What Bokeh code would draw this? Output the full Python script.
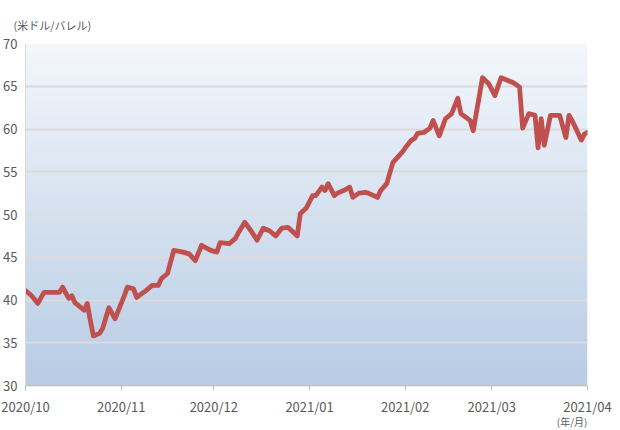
import numpy as np
import pandas as pd
from bokeh.plotting import figure
from bokeh.models import FixedTicker, Range1d, Title
from bokeh.embed import file_html
from bokeh.resources import INLINE

# ---- data ----
dates = [
    "2020-10-01", "2020-10-03", "2020-10-05", "2020-10-07", "2020-10-09", "2020-10-12",
    "2020-10-13", "2020-10-15", "2020-10-16", "2020-10-17", "2020-10-20", "2020-10-21",
    "2020-10-22", "2020-10-23", "2020-10-25", "2020-10-26", "2020-10-28", "2020-10-30",
    "2020-11-02", "2020-11-03", "2020-11-05", "2020-11-06", "2020-11-09", "2020-11-11",
    "2020-11-13", "2020-11-14", "2020-11-16", "2020-11-18", "2020-11-21", "2020-11-23",
    "2020-11-25", "2020-11-27", "2020-11-30",
    "2020-12-02", "2020-12-03", "2020-12-06", "2020-12-08", "2020-12-09", "2020-12-11",
    "2020-12-13", "2020-12-15", "2020-12-17", "2020-12-19", "2020-12-21", "2020-12-23",
    "2020-12-25", "2020-12-28", "2020-12-29", "2020-12-31",
    "2021-01-02", "2021-01-03", "2021-01-05", "2021-01-06", "2021-01-07", "2021-01-09",
    "2021-01-10", "2021-01-12", "2021-01-14", "2021-01-15", "2021-01-17", "2021-01-19",
    "2021-01-20", "2021-01-23", "2021-01-24", "2021-01-26", "2021-01-27", "2021-01-28",
    "2021-01-31",
    "2021-02-01", "2021-02-03", "2021-02-04", "2021-02-05", "2021-02-07", "2021-02-09",
    "2021-02-10", "2021-02-12", "2021-02-14", "2021-02-16", "2021-02-18", "2021-02-19",
    "2021-02-22", "2021-02-23", "2021-02-26", "2021-02-28",
    "2021-03-02", "2021-03-04", "2021-03-06", "2021-03-08", "2021-03-10", "2021-03-11",
    "2021-03-13", "2021-03-15", "2021-03-16", "2021-03-17", "2021-03-18", "2021-03-20",
    "2021-03-23", "2021-03-25", "2021-03-26", "2021-03-27", "2021-03-30", "2021-03-31",
    "2021-04-01",
]
prices = [
    41.1, 40.5, 39.6, 40.9, 40.9, 40.9, 41.5, 40.2, 40.5, 39.7, 38.8, 39.6, 37.6, 35.8, 36.1, 36.7, 39.1, 37.8,
    40.5, 41.5, 41.3, 40.3, 41.1, 41.7, 41.7, 42.5, 43.1, 45.8, 45.6, 45.4, 44.6, 46.4, 45.8,
    45.6, 46.7, 46.6, 47.2, 47.9, 49.1, 48.1, 47.0, 48.4, 48.1, 47.5, 48.4, 48.5, 47.5, 50.1, 50.8,
    52.2, 52.2, 53.2, 52.8, 53.6, 52.2, 52.5, 52.8, 53.2, 52.0, 52.5, 52.6, 52.5, 52.0, 52.8, 53.6, 54.9, 56.1, 57.3,
    57.8, 58.7, 58.9, 59.5, 59.6, 60.1, 61.0, 59.2, 61.2, 61.8, 63.6, 61.8, 61.0, 59.8, 66.0, 65.3,
    63.9, 66.0, 65.7, 65.4, 64.9, 60.1, 61.8, 61.6, 57.8, 61.2, 58.1, 61.6, 61.6, 59.0, 61.6, 61.0, 58.7, 59.4, 59.6,
]
y_ticks = [30, 35, 40, 45, 50, 55, 60, 65, 70]
x_tick_labels = ["2020/10", "2020/11", "2020/12", "2021/01", "2021/02", "2021/03", "2021/04"]
y_unit_label = "(米ドル/バレル)"
x_unit_label = "(年/月)"

# ---- derived ----
x = pd.to_datetime(dates)
tick_dates = pd.to_datetime([s.replace("/", "-") + "-01" for s in x_tick_labels])
tick_ms = [float(t.value // 10**6) for t in tick_dates]

FONT = "Noto Sans CJK JP"
TXT = "#595959"

p = figure(
    x_axis_type="datetime",
    frame_width=562, frame_height=342,
    min_border_left=17, min_border_right=25, min_border_top=43, min_border_bottom=44,
    x_range=Range1d(tick_ms[0], tick_ms[-1]),
    y_range=Range1d(y_ticks[0], y_ticks[-1]),
    output_backend="svg", toolbar_location=None,
    background_fill_color="white", border_fill_color="white",
)
p.outline_line_color = None

# gradient background of the plot area (white at top -> light blue at bottom)
n = 200
top = np.array([244, 247, 252], dtype=float)
bot = np.array([184, 204, 229], dtype=float)
tt = np.linspace(0, 1, n)[:, None]  # row 0 = bottom
cols = (bot * (1 - tt) + top * tt).astype(np.uint32)
img = np.empty((n, 1), dtype=np.uint32)
view = img.view(dtype=np.uint8).reshape((n, 1, 4))
view[:, 0, 0] = cols[:, 0]
view[:, 0, 1] = cols[:, 1]
view[:, 0, 2] = cols[:, 2]
view[:, 0, 3] = 255
bg = p.image_rgba(image=[img], x=tick_ms[0], y=y_ticks[0],
                  dw=tick_ms[-1] - tick_ms[0], dh=y_ticks[-1] - y_ticks[0])
bg.level = "image"

# line
p.line(x, prices, line_color="#c0504d", line_width=4.8, line_join="round", line_cap="round")

# grid
p.xgrid.grid_line_color = None
p.ygrid.ticker = FixedTicker(ticks=y_ticks)
p.ygrid.grid_line_color = "#dcdadc"
p.ygrid.grid_line_width = 2

# axes
p.yaxis.ticker = FixedTicker(ticks=y_ticks)
p.yaxis.axis_line_color = "#d9d9d9"
p.yaxis.major_tick_line_color = None
p.yaxis.minor_tick_line_color = None
p.yaxis.major_label_standoff = 2
p.yaxis.major_label_text_font = FONT
p.yaxis.major_label_text_font_size = "13px"
p.yaxis.major_label_text_color = TXT

p.xaxis.ticker = FixedTicker(ticks=tick_ms)
p.xaxis.major_label_overrides = {t: lab for t, lab in zip(tick_ms, x_tick_labels)}
p.xaxis.axis_line_color = "#bfbfbf"
p.xaxis.axis_line_width = 1.5
p.xaxis.major_tick_line_color = "#bfbfbf"
p.xaxis.major_tick_out = 5
p.xaxis.major_tick_in = 0
p.xaxis.minor_tick_line_color = None
p.xaxis.major_label_standoff = 6
p.xaxis.major_label_text_font = FONT
p.xaxis.major_label_text_font_size = "13px"
p.xaxis.major_label_text_color = TXT

# unit labels as titles
p.add_layout(Title(text=y_unit_label, align="left", offset=-12, standoff=22,
                   text_font=FONT, text_font_size="11px", text_color=TXT,
                   text_font_style="normal"), "above")
p.add_layout(Title(text=x_unit_label, align="right", offset=0, standoff=-14,
                   text_font=FONT, text_font_size="10px", text_color=TXT,
                   text_font_style="normal"), "below")

open("out.html", "w").write(file_html(p, INLINE))
